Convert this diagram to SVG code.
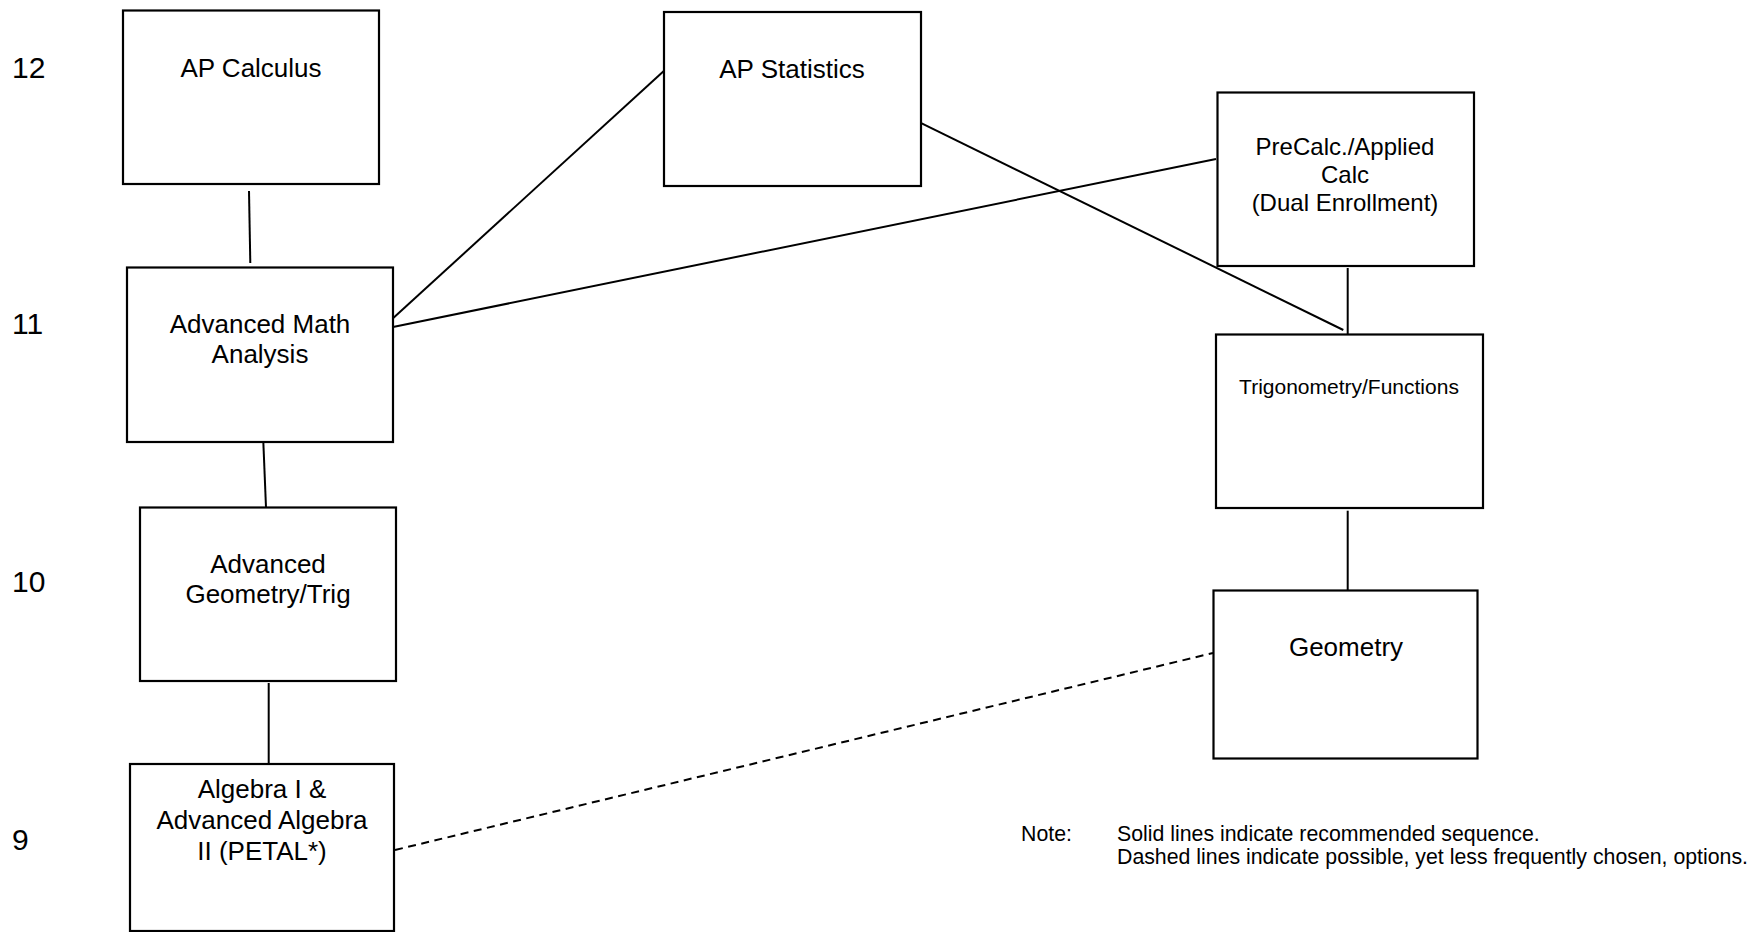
<svg xmlns="http://www.w3.org/2000/svg" width="1758" height="932" viewBox="0 0 1758 932">
<style>
  .box { fill: #ffffff; stroke: #000000; stroke-width: 2.2; }
  .t { font-family: "Liberation Sans", Arial, sans-serif; fill: #000000; }
  .lbl { font-size: 26px; text-anchor: middle; }
  .grade { font-size: 30px; }
  .note { font-size: 21.3px; }
  .conn line { stroke: #000000; stroke-width: 2; }
  .conn .dash { stroke-dasharray: 8 5.5; }
</style>
<rect width="1758" height="932" fill="#ffffff"/>

<g id="grades">
  <text class="t grade" x="12" y="78">12</text>
  <text class="t grade" x="12" y="334">11</text>
  <text class="t grade" x="12" y="592">10</text>
  <text class="t grade" x="12" y="850">9</text>
</g>

<g class="conn" id="connectors">
  <line x1="249" y1="191" x2="250.3" y2="263"/>
  <line x1="263" y1="434" x2="266" y2="507.5"/>
  <line x1="268.7" y1="683" x2="268.7" y2="763.5"/>
  <line x1="390" y1="321" x2="666" y2="69"/>
  <line x1="393" y1="327" x2="1216" y2="159"/>
  <line x1="921.7" y1="123.3" x2="1343.3" y2="330"/>
  <line x1="1347.7" y1="268" x2="1347.7" y2="335"/>
  <line x1="1347.7" y1="510.7" x2="1347.7" y2="590"/>
  <line class="dash" x1="395" y1="850" x2="1213" y2="653"/>
</g>

<g id="ap-calculus">
  <rect class="box" x="123" y="10.5" width="256" height="173.5"/>
  <text class="t lbl" x="251" y="77">AP Calculus</text>
</g>

<g id="ap-statistics">
  <rect class="box" x="664" y="12" width="257" height="174"/>
  <text class="t lbl" x="792" y="78">AP Statistics</text>
</g>

<g id="advanced-math-analysis">
  <rect class="box" x="127" y="267.5" width="266" height="174.5"/>
  <text class="t lbl" x="260" y="333">Advanced Math</text>
  <text class="t lbl" x="260" y="363">Analysis</text>
</g>

<g id="advanced-geometry-trig">
  <rect class="box" x="140" y="507.5" width="256" height="173.5"/>
  <text class="t lbl" x="268" y="573">Advanced</text>
  <text class="t lbl" x="268" y="603">Geometry/Trig</text>
</g>

<g id="algebra">
  <rect class="box" x="130" y="764" width="264" height="167"/>
  <text class="t lbl" x="262" y="798">Algebra I &amp;</text>
  <text class="t lbl" x="262" y="829">Advanced Algebra</text>
  <text class="t lbl" x="262" y="860">II (PETAL*)</text>
</g>

<g id="precalc">
  <rect class="box" x="1217.5" y="92.5" width="256.5" height="173.5"/>
  <text class="t lbl" x="1345" y="155" style="font-size:24px">PreCalc./Applied</text>
  <text class="t lbl" x="1345" y="183" style="font-size:24px">Calc</text>
  <text class="t lbl" x="1345" y="211" style="font-size:24px">(Dual Enrollment)</text>
</g>

<g id="trigonometry-functions">
  <rect class="box" x="1216" y="334.5" width="267" height="173.5"/>
  <text class="t lbl" x="1349" y="394" style="font-size:21px">Trigonometry/Functions</text>
</g>

<g id="geometry">
  <rect class="box" x="1213.5" y="590.5" width="264" height="168"/>
  <text class="t lbl" x="1346" y="656">Geometry</text>
</g>

<g id="note">
  <text class="t note" x="1021" y="841">Note:</text>
  <text class="t note" x="1117" y="841">Solid lines indicate recommended sequence.</text>
  <text class="t note" x="1117" y="864">Dashed lines indicate possible, yet less frequently chosen, options.</text>
</g>
</svg>
